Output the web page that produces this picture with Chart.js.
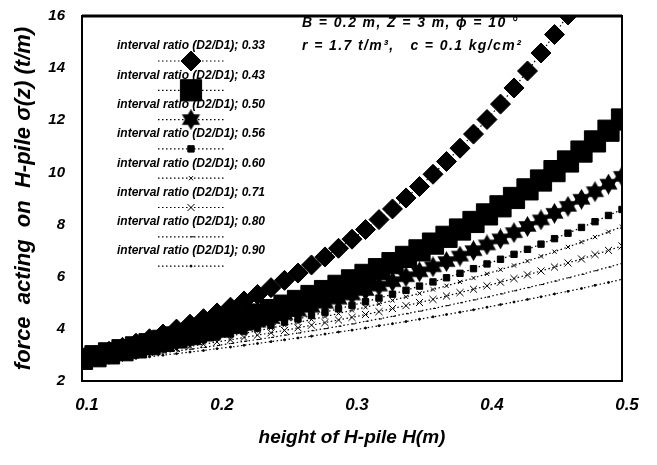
<!DOCTYPE html>
<html><head><meta charset="utf-8">
<script src="https://cdn.jsdelivr.net/npm/chart.js@4/dist/chart.umd.min.js"></script>
<style>html,body{margin:0;padding:0;background:#fff}#wrap{width:657px;height:465px}</style>
</head><body><div id="wrap"><canvas id="c" width="657" height="465"></canvas></div>
<script>
const heightH = [0.10,0.11,0.12,0.13,0.14,0.15,0.16,0.17,0.18,0.19,0.20,0.21,0.22,0.23,0.24,0.25,0.26,0.27,0.28,0.29,0.30,0.31,0.32,0.33,0.34,0.35,0.36,0.37,0.38,0.39,0.40,0.41,0.42,0.43,0.44,0.45,0.46,0.47,0.48,0.49,0.50];
const ratioLabels = ['interval ratio (D2/D1); 0.33','interval ratio (D2/D1); 0.43','interval ratio (D2/D1); 0.50','interval ratio (D2/D1); 0.56','interval ratio (D2/D1); 0.60','interval ratio (D2/D1); 0.71','interval ratio (D2/D1); 0.80','interval ratio (D2/D1); 0.90'];
const force033 = [2.85,2.99,3.14,3.29,3.45,3.62,3.80,3.99,4.18,4.39,4.61,4.83,5.07,5.32,5.58,5.86,6.14,6.45,6.76,7.09,7.44,7.81,8.19,8.60,9.02,9.46,9.93,10.42,10.93,11.47,12.03,12.62,13.24,13.89,14.58,15.29,16.04,16.83,17.66,18.53,19.44];
const force043 = [2.85,2.95,3.06,3.18,3.29,3.41,3.54,3.67,3.80,3.94,4.09,4.24,4.39,4.55,4.72,4.89,5.07,5.26,5.45,5.65,5.86,6.07,6.29,6.52,6.76,7.01,7.27,7.53,7.81,8.10,8.39,8.70,9.02,9.35,9.69,10.05,10.42,10.80,11.19,11.60,12.03];
const force050 = [2.85,2.94,3.03,3.13,3.23,3.33,3.43,3.54,3.65,3.77,3.89,4.01,4.13,4.26,4.40,4.54,4.68,4.83,4.98,5.14,5.30,5.47,5.64,5.81,6.00,6.19,6.38,6.58,6.79,7.00,7.22,7.45,7.69,7.93,8.18,8.43,8.70,8.97,9.26,9.55,9.85];
const force056 = [2.80,2.88,2.96,3.05,3.13,3.22,3.31,3.41,3.50,3.60,3.70,3.81,3.92,4.03,4.14,4.26,4.38,4.51,4.64,4.77,4.90,5.04,5.18,5.33,5.48,5.64,5.80,5.96,6.13,6.31,6.49,6.67,6.86,7.05,7.25,7.46,7.67,7.89,8.11,8.35,8.58];
const force060 = [2.80,2.87,2.95,3.03,3.11,3.19,3.27,3.36,3.45,3.54,3.63,3.73,3.83,3.93,4.03,4.14,4.24,4.36,4.47,4.59,4.71,4.83,4.96,5.09,5.23,5.36,5.51,5.65,5.80,5.95,6.11,6.27,6.43,6.60,6.78,6.96,7.14,7.33,7.52,7.72,7.92];
const force071 = [2.75,2.82,2.89,2.96,3.03,3.10,3.18,3.25,3.33,3.41,3.50,3.58,3.67,3.76,3.85,3.94,4.04,4.14,4.24,4.34,4.44,4.55,4.66,4.78,4.89,5.01,5.13,5.26,5.39,5.52,5.65,5.79,5.93,6.07,6.22,6.37,6.53,6.68,6.85,7.01,7.18];
const force080 = [2.70,2.76,2.82,2.88,2.95,3.01,3.08,3.15,3.22,3.29,3.36,3.44,3.52,3.59,3.67,3.76,3.84,3.93,4.01,4.10,4.19,4.29,4.38,4.48,4.58,4.68,4.78,4.89,5.00,5.11,5.22,5.34,5.46,5.58,5.70,5.83,5.96,6.09,6.23,6.37,6.51];
const force090 = [2.65,2.70,2.76,2.81,2.87,2.93,2.99,3.05,3.11,3.17,3.24,3.30,3.37,3.44,3.51,3.58,3.65,3.72,3.80,3.88,3.95,4.03,4.12,4.20,4.28,4.37,4.46,4.55,4.64,4.73,4.83,4.93,5.03,5.13,5.23,5.34,5.44,5.55,5.67,5.78,5.90];
const xTickValues = [0.1,0.2,0.3,0.4,0.5];
const yTickValues = [2,4,6,8,10,12,14,16];
const xTitle = 'height of H-pile H(m)';
const yTitle = 'force  acting  on  H-pile σ(z) (t/m)';
const noteLines = ['B = 0.2 m, Z = 3 m, ϕ = 10 °', 'r = 1.7 t/m³,   c = 0.1 kg/cm²'];

const FONT = '"Liberation Sans", Arial, sans-serif';

function makeStar(size){
  const c = document.createElement('canvas'); c.width = size; c.height = size;
  const g = c.getContext('2d'); const r = size/2;
  g.fillStyle = '#000';
  [-Math.PI/2, Math.PI/2].forEach(a0 => {
    g.beginPath();
    for (let k=0;k<3;k++){ const a=a0+k*2*Math.PI/3; const px=r+r*Math.cos(a), py=r+r*Math.sin(a); if(k) g.lineTo(px,py); else g.moveTo(px,py);} 
    g.closePath(); g.fill();
  });
  return c;
}
const starImg = makeStar(21);

const seriesList = [force033, force043, force050, force056, force060, force071, force080, force090];
const markerStyles = [
  {pointStyle:'rectRot', radius:10, bw:1},
  {pointStyle:'rect', radius:15, bw:1},
  {pointStyle:starImg, radius:11, bw:1},
  {pointStyle:'rect', radius:4.5, bw:1},
  {pointStyle:'crossRot', radius:3, bw:1},
  {pointStyle:'crossRot', radius:5, bw:1},
  {pointStyle:'dash', radius:3, bw:1},
  {pointStyle:'circle', radius:1, bw:1}
];

const datasets = seriesList.map((vals, i) => ({
  label: ratioLabels[i],
  data: heightH.map((h, j) => ({x: h, y: vals[j]})),
  borderColor: '#000', backgroundColor: '#000',
  borderWidth: 1.2, borderDash: [1.5, 2.5], tension: 0,
  pointStyle: markerStyles[i].pointStyle,
  pointRadius: markerStyles[i].radius, pointHoverRadius: markerStyles[i].radius,
  pointBorderWidth: markerStyles[i].bw,
  pointBackgroundColor: '#000', pointBorderColor: '#000'
}));

function drawMarker(ctx, st, x, y){
  if (Chart.helpers && Chart.helpers.drawPoint) {
    ctx.save(); ctx.fillStyle='#000'; ctx.strokeStyle='#000'; ctx.lineWidth=st.bw;
    Chart.helpers.drawPoint(ctx, {pointStyle: st.pointStyle, radius: st.radius, rotation: 0, borderWidth: st.bw}, x, y);
    ctx.restore();
  }
}

const customPlugin = {
  id: 'custom',
  afterDatasetsDraw(chart) {
    const {ctx, chartArea: a} = chart;
    ctx.save();
    ctx.strokeStyle = '#000';
    ctx.lineWidth = 2;
    ctx.strokeRect(a.left, a.top, a.right - a.left, a.bottom - a.top);
    ctx.lineWidth = 3;
    ctx.beginPath(); ctx.moveTo(a.left, a.top); ctx.lineTo(a.right, a.top); ctx.stroke();
    // legend
    const cx = 191;
    ratioLabels.forEach((lab, i) => {
      const ty = 46 + 29.3 * i;
      ctx.fillStyle = '#000';
      ctx.font = 'italic bold 12px ' + FONT;
      ctx.textAlign = 'center'; ctx.textBaseline = 'middle';
      ctx.fillText(lab, cx, ty);
      const ly = ty + 15;
      ctx.save();
      ctx.lineWidth = 1.2; ctx.setLineDash([1.5, 2.5]);
      ctx.beginPath(); ctx.moveTo(158, ly); ctx.lineTo(225, ly); ctx.stroke();
      ctx.restore();
      drawMarker(ctx, markerStyles[i], cx, ly);
    });
    // note
    ctx.font = 'italic bold 14px ' + FONT;
    if ('letterSpacing' in ctx) ctx.letterSpacing = '1.4px';
    ctx.textAlign = 'left'; ctx.textBaseline = 'middle'; ctx.fillStyle = '#000';
    ctx.fillText(noteLines[0], 302, 23);
    ctx.fillText(noteLines[1], 302, 46);
    if ('letterSpacing' in ctx) ctx.letterSpacing = '0px';
    ctx.restore();
  }
};

new Chart(document.getElementById('c'), {
  type: 'line',
  data: { datasets },
  options: {
    responsive: false, animation: false, devicePixelRatio: 1,
    layout: { padding: { top: 12, right: 35, left: 0, bottom: 0 } },
    plugins: { legend: { display: false }, tooltip: { enabled: false } },
    scales: {
      x: {
        type: 'linear', min: 0.1, max: 0.5, offset: false,
        afterBuildTicks: s => { s.ticks = xTickValues.map(v => ({value: v})); },
        afterFit: s => { s.height = 84; s.paddingLeft = 0; s.paddingRight = 0; },
        grid: { display: false, drawTicks: false }, border: { display: false },
        ticks: { color: '#000', font: { family: FONT, size: 17, style: 'italic', weight: 'bold' }, padding: 14, labelOffset: 5, maxRotation: 0,
          callback: v => Number(v).toFixed(1) },
        title: { display: true, text: xTitle, color: '#000', font: { family: FONT, size: 19, style: 'italic', weight: 'bold' }, padding: { top: 0, bottom: 16 } }
      },
      y: {
        type: 'linear', min: 2, max: 16,
        afterBuildTicks: s => { s.ticks = yTickValues.map(v => ({value: v})); },
        afterFit: s => { s.width = 82; s.paddingTop = 0; s.paddingBottom = 0; },
        grid: { display: false, drawTicks: false }, border: { display: false },
        ticks: { color: '#000', font: { family: FONT, size: 15, style: 'italic', weight: 'bold' }, padding: 17 },
        title: { display: true, text: yTitle, color: '#000', font: { family: FONT, size: 22, style: 'italic', weight: 'bold' }, padding: { top: 11, bottom: 11 } }
      }
    }
  },
  plugins: [customPlugin]
});
</script>
</body></html>
